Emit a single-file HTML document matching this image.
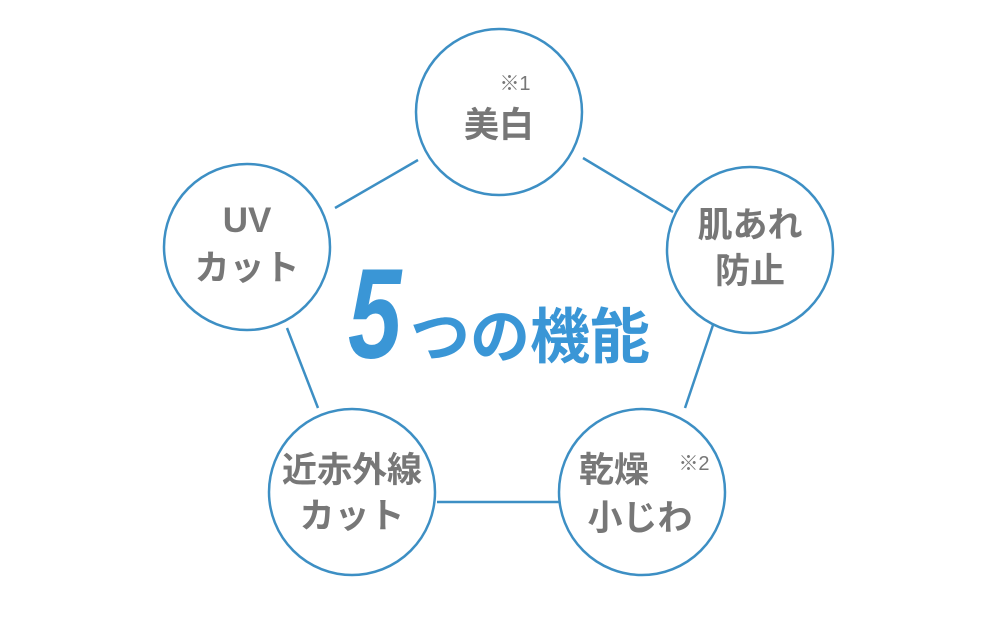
<!DOCTYPE html>
<html><head><meta charset="utf-8"><style>
body{margin:0;background:#fff;}
svg text{font-family:"Liberation Sans","Noto Sans CJK JP",sans-serif;}
</style></head><body>
<svg width="1000" height="612" viewBox="0 0 1000 612">
<g stroke="#3d8fc4" stroke-width="2.5" fill="none">
<line x1="335" y1="208" x2="418" y2="160"/>
<line x1="583" y1="158" x2="673" y2="212"/>
<line x1="713" y1="325" x2="685" y2="408"/>
<line x1="437" y1="502" x2="560" y2="502"/>
<line x1="287" y1="328" x2="318" y2="408"/>
<circle cx="499" cy="112" r="83"/>
<circle cx="247" cy="247" r="83"/>
<circle cx="750" cy="250" r="83"/>
<circle cx="352" cy="492" r="83"/>
<circle cx="642" cy="492" r="83"/>
</g>
<g fill="#777" font-size="35" text-anchor="middle" font-weight="bold">
<text x="499" y="137">美白</text>
<text x="515" y="90" font-size="20" font-weight="normal">※1</text>
<text x="247" y="232">UV</text>
<text x="247" y="280">カット</text>
<text x="750" y="237">肌あれ</text>
<text x="750" y="283">防止</text>
<text x="352" y="482">近赤外線</text>
<text x="352" y="528">カット</text>
<text x="614" y="482">乾燥</text>
<text x="694" y="470" font-size="20" font-weight="normal">※2</text>
<text x="640" y="530">小じわ</text>
</g>
<g fill="#3a96d6" font-weight="bold">
<text x="348" y="358" font-size="128" font-style="italic" transform="translate(348,358) scale(0.75,1) translate(-348,-358)">5</text>
<text x="410" y="358" font-size="60">つの機能</text>
</g>
</svg>
</body></html>
